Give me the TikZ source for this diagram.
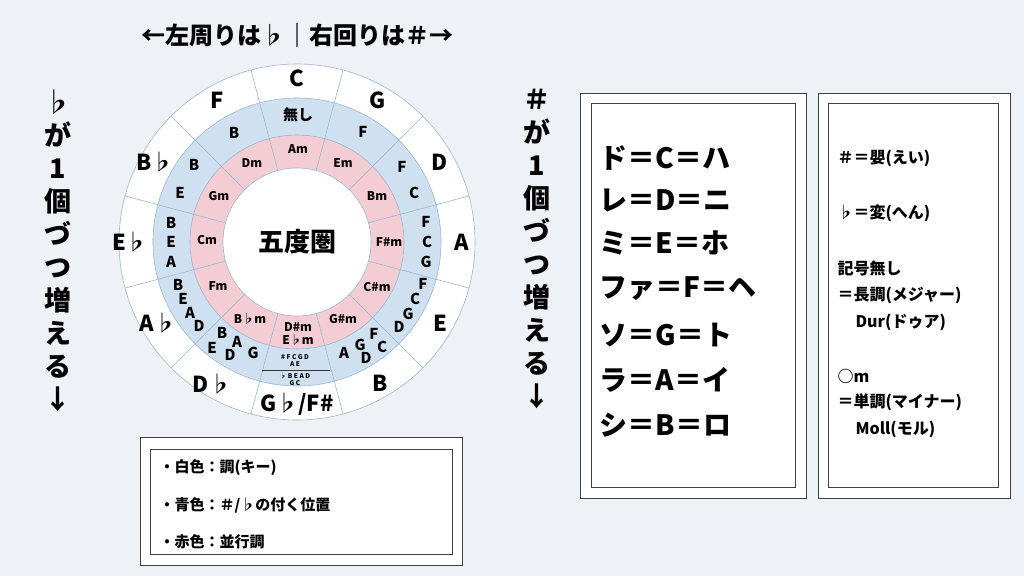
\documentclass[tikz,border=0pt]{standalone}
\usepackage{fontspec}
\setmainfont{Noto Sans CJK JP}
\usetikzlibrary{calc}
\definecolor{bg}{HTML}{EEF1F5}
\definecolor{ringblue}{HTML}{CFE1F0}
\definecolor{ringpink}{HTML}{F4CCD3}
\definecolor{lineblue}{HTML}{9DB8CF}
\tikzset{
  key/.style={font=\bfseries\fontsize{22}{22}\selectfont},
  bl/.style={font=\bfseries\fontsize{15}{15}\selectfont},
  pk/.style={font=\bfseries\fontsize{12}{13}\selectfont},
  tiny/.style={font=\bfseries\fontsize{6.5}{6.5}\selectfont},
  small/.style={font=\bfseries\fontsize{16}{18}\selectfont,anchor=west},
  leg/.style={font=\bfseries\fontsize{15}{17}\selectfont,anchor=west},
  vert/.style={font=\bfseries\fontsize{27}{33}\selectfont,align=center,anchor=north},
  boxo/.style={draw=black!75,line width=0.9pt,fill=white},
  boxi/.style={draw=black!75,line width=0.9pt}
}
\begin{document}
\begin{tikzpicture}[x=1pt,y=-1pt]
\useasboundingbox (0,0) rectangle (1024,576);
\fill[bg] (0,0) rectangle (1024,576);
\coordinate (c) at (297,242);
% rings
\fill[white] (c) circle[radius=178pt];
\fill[ringblue] (c) circle[radius=144pt];
\fill[ringpink] (c) circle[radius=107pt];
\fill[white] (c) circle[radius=74pt];
\foreach \r in {178,144,107,74}{\draw[lineblue,line width=0.6pt] (c) circle[radius=\r pt];}
\foreach \a in {0,30,...,330}{
  \draw[lineblue,line width=0.6pt] ($(c)+(\a+15:74pt)$) -- ($(c)+(\a+15:178pt)$);}
% outer keys
\node[key] (kC) at (297,78) {C};
\node[key] (kG) at (378,100) {G};
\node[key] (kD) at (440,162) {D};
\node[key] (kA) at (462,242) {A};
\node[key] (kE) at (440,323) {E};
\node[key] (kB) at (380,383) {B};
\node[key] (kGb) at (297,404) {G♭/F\#};
\node[key] (kDb) at (212,384) {D♭};
\node[key] (kAb) at (158,323) {A♭};
\node[key] (kEb) at (130,242) {E♭};
\node[key] (kBb) at (155,162) {B♭};
\node[key] (kF) at (217,100) {F};
% blue ring
\node[bl] (n0) at (298,115) {無し};
\node[bl] (g1) at (363,132) {F};
\node[bl] (d1) at (402,167) {F};
\node[bl] (d2) at (414,193) {C};
\node[bl] (a1) at (426,222) {F};
\node[bl] (a2) at (427,242) {C};
\node[bl] (a3) at (426,262) {G};
\node[bl] (e1) at (423,284) {F};
\node[bl] (e2) at (415,299) {C};
\node[bl] (e3) at (408,314) {G};
\node[bl] (e4) at (399,327) {D};
\node[bl] (b1) at (374,334) {F};
\node[bl] (b2) at (382,347) {C};
\node[bl] (b3) at (360,345) {G};
\node[bl] (b4) at (366,358) {D};
\node[bl] (b5) at (344,353) {A};
\node[bl] (db1) at (222,333) {B};
\node[bl] (db2) at (237,342) {A};
\node[bl] (db3) at (212,348) {E};
\node[bl] (db4) at (230,355) {D};
\node[bl] (db5) at (253,353) {G};
\node[bl] (ab1) at (178,285) {B};
\node[bl] (ab2) at (183,299) {E};
\node[bl] (ab3) at (190,313) {A};
\node[bl] (ab4) at (199,326) {D};
\node[bl] (eb1) at (171,223) {B};
\node[bl] (eb2) at (171,242) {E};
\node[bl] (eb3) at (171,262) {A};
\node[bl] (bb1) at (194,165) {B};
\node[bl] (bb2) at (180,193) {E};
\node[bl] (f1) at (234,133) {B};
\node[tiny] (t1) at (295,357) {\# F C G D};
\node[tiny] (t2) at (295,364) {A E};
\draw[black!80,line width=0.6pt] (262,370) -- (330,370);
\node[tiny] (t3) at (295,376) {♭ B E A D};
\node[tiny] (t4) at (295,383) {G C};
% pink ring
\node[pk] (pAm) at (298,149) {Am};
\node[pk] (pEm) at (343,163) {Em};
\node[pk] (pBm) at (377,196) {Bm};
\node[pk] (pFs) at (389,242) {F\#m};
\node[pk] (pCs) at (377,287) {C\#m};
\node[pk] (pGs) at (343,319) {G\#m};
\node[pk,align=center] (pDs) at (298,334) {D\#m\\E♭m};
\node[pk] (pBb) at (250,319) {B♭m};
\node[pk] (pFm) at (218,286) {Fm};
\node[pk] (pCm) at (207,240) {Cm};
\node[pk] (pGm) at (219,196) {Gm};
\node[pk] (pDm) at (252,163) {Dm};
\node[font=\bfseries\fontsize{26}{26}\selectfont] (ctr) at (297,242) {五度圏};
% title and vertical texts
\node[font=\bfseries\fontsize{24}{24}\selectfont] (title) at (297,35) {←左周りは♭｜右回りは＃→};
\node[vert] (vl) at (58,86) {♭\\が\\1\\個\\づ\\つ\\増\\え\\る\\↓};
\node[vert] (vr) at (537,86) {＃\\が\\1\\個\\づ\\つ\\増\\え\\る\\↓};
% legend box
\draw[boxo] (140,437) rectangle (462,565);
\draw[boxi] (150,449) rectangle (452,554);
\node[leg] (l1) at (156,468) {・白色：調(キー)};
\node[leg] (l2) at (156,505) {・青色：＃/♭の付く位置};
\node[leg] (l3) at (156,542) {・赤色：並行調};
% box 2
\draw[boxo] (580,93) rectangle (806,498);
\draw[boxi] (591,103) rectangle (795,487);
\foreach \t/\y [count=\i] in {ド＝C＝ハ/158,レ＝D＝ニ/200,ミ＝E＝ホ/243,ファ＝F＝ヘ/289,ソ＝G＝ト/335,ラ＝A＝イ/380,シ＝B＝ロ/425}{
  \node[anchor=west,font=\bfseries\fontsize{28}{28}\selectfont] (s\i) at (596,\y) {\t};}
% box 3
\draw[boxo] (818,93) rectangle (1010,498);
\draw[boxi] (828,103) rectangle (998,487);
\node[small] (r1) at (834,158) {＃＝嬰(えい)};
\node[small] (r2) at (834,213) {♭＝変(へん)};
\node[small] (r3) at (834,268) {記号無し};
\node[small] (r4) at (834,295) {＝長調(メジャー)};
\node[small] (r5) at (852,322) {Dur(ドゥア)};
\node[small] (r6) at (834,376) {○m};
\node[small] (r7) at (834,402) {＝単調(マイナー)};
\node[small] (r8) at (852,429) {Moll(モル)};
\end{tikzpicture}
\end{document}
